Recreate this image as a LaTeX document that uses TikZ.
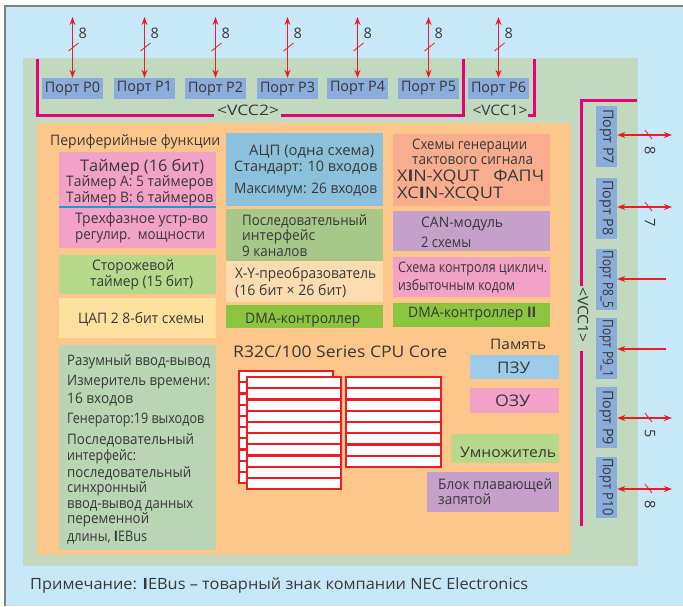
\documentclass[tikz,border=0pt]{standalone}
\usepackage{fontspec}
\setmainfont{Open Sans}
\usetikzlibrary{arrows.meta}
\newcommand\fitw[2]{\resizebox{#1pt}{\height}{#2}}
\definecolor{bgblue}{HTML}{C6E8F8}
\definecolor{pgreen}{HTML}{C1D9BE}
\definecolor{corange}{HTML}{FDC78C}
\definecolor{portblue}{HTML}{8AADDB}
\definecolor{ared}{HTML}{ED1C24}
\definecolor{vmag}{HTML}{E5007D}
\definecolor{tpink}{HTML}{F2A1C7}
\definecolor{tblue}{HTML}{1A9AD6}
\definecolor{lgreen}{HTML}{B7D98B}
\definecolor{dyellow}{HTML}{FEE19F}
\definecolor{adcblue}{HTML}{8CC1DC}
\definecolor{sgreen}{HTML}{A8C889}
\definecolor{xypeach}{HTML}{FDDCB1}
\definecolor{dmagreen}{HTML}{8BC53F}
\definecolor{salmon}{HTML}{F8AE8E}
\definecolor{lav}{HTML}{C5A0CA}
\definecolor{romblue}{HTML}{9DCCEA}
\definecolor{iogreen}{HTML}{BAD5B4}
\definecolor{txt}{HTML}{383838}
\begin{document}
\begin{tikzpicture}[x=1pt,y=-1pt,
  t/.style={inner sep=0, text=txt, font=\fontsize{14.5}{17}\selectfont},
  tw/.style={t, anchor=base west},
  tl/.style={tw, font=\fontsize{16}{18}\selectfont},
  port/.style={fill=portblue, minimum width=61pt, minimum height=21pt, inner sep=0, text=txt, font=\fontsize{14.5}{17}\selectfont},
  io/.style={draw=ared, line width=1.3pt, {Stealth[length=8pt,width=6pt]}-{Stealth[length=8pt,width=6pt]}},
  ioin/.style={draw=ared, line width=1.3pt, -{Stealth[length=8pt,width=6pt]}},
  slashln/.style={draw=ared, line width=0.8pt},
  vcc/.style={draw=vmag, line width=3pt},
  reg/.style={draw=ared, line width=2.2pt, fill=white},
  regl/.style={draw=ared, line width=2.2pt},
]
\useasboundingbox (0,0) rectangle (683,606);
\fill[white] (0,0) rectangle (683,606);
\fill[bgblue] (5,6) rectangle (683,606);
\draw[gray, line width=1.5pt] (5,606) -- (5,6) -- (683,6);
\fill[pgreen] (23,58) rectangle (638,566);
\fill[corange] (37,123) rectangle (571,555);

% top ports
\foreach \i/\cx in {0/72.5,1/144.5,2/215.5,3/287.5,4/357.5,5/428.5,6/498.5}{
  \node[port] (P\i) at (\cx,88.5) {\fitw{55}{Порт P\i}};
  \coordinate (T\i) at (\cx,17);
  \draw[io] (T\i) -- (P\i.north);
  \draw[slashln] (\cx-4,51) -- (\cx+6,43);
  \node[t, anchor=west] (L\i) at (\cx+6,33) {8};
}

% right ports
\foreach \k/\lab/\cy/\w in {a/P7/136.5/55,b/P8/208/55,c/P8\_5/279.5/58,d/P9\_1/348.5/58,e/P9/417.5/55,f/P10/487/57}{
  \node[port, rotate=-90] (R\k) at (606.5,\cy) {\fitw{\w}{Порт \lab}};
}
\coordinate (Ea) at (672,135);
\coordinate (Eb) at (672,207);
\coordinate (Ec) at (666,279);
\coordinate (Ed) at (666,349);
\coordinate (Ee) at (672,418);
\coordinate (Ef) at (672,489);
\draw[io] (Ra.north |- Ea) -- (Ea);
\draw[io] (Rb.north |- Eb) -- (Eb);
\draw[ioin] (Ec) -- (Rc.north |- Ec);
\draw[ioin] (Ed) -- (Rd.north |- Ed);
\draw[io] (Re.north |- Ee) -- (Ee);
\draw[io] (Rf.north |- Ef) -- (Ef);
\foreach \cy/\n [count=\c] in {135/8,207/7,418/5,489/8}{
  \draw[slashln] (645,\cy-5) -- (652,\cy+4);
  \node[t, rotate=-90] (RL\c) at (650,\cy+16) {\n};
}

% VCC lines
\draw[vcc] (37,59) -- (37,115) -- (214,115);
\node[t] (vcc2) at (248,110) {\fitw{62}{<VCC2>}};
\draw[vcc] (281,115) -- (463,115) -- (463,59);
\node[t] (vcc1a) at (500,110) {\fitw{55}{<VCC1>}};
\draw[vcc] (528,115) -- (534,115) -- (534,59);
\draw[vcc] (637,100) -- (581,100) -- (581,286);
\node[t, rotate=-90] (vcc1b) at (583,315) {\fitw{56}{<VCC1>}};
\draw[vcc] (581,351) -- (581,526);

% left column
\node[tw] (perif) at (50,145) {\fitw{170}{Периферийные функции}};
\fill[tpink] (59,152) rectangle (216,248);
\draw[tblue, line width=2.5pt] (59,207) -- (216,207);
\node[tl] (tm1) at (80,171) {\fitw{124}{Таймер (16 бит)}};
\node[tw] (tm2) at (66,186) {\fitw{147}{Таймер A: 5 таймеров}};
\node[tw] (tm3) at (66,202) {\fitw{147}{Таймер B: 6 таймеров}};
\node[tw] (tm4) at (75,223) {\fitw{133}{Трехфазное устр-во}};
\node[tw] (tm5) at (75,239) {\fitw{130}{регулир.\ \ мощности}};

\fill[lgreen] (59,255) rectangle (216,294);
\node[tw] (wd1) at (92,270) {\fitw{82}{Сторожевой}};
\node[tw] (wd2) at (90,286) {\fitw{103}{таймер (15 бит)}};

\fill[dyellow] (59,298) rectangle (216,338);
\node[tw] (dac) at (78,323) {\fitw{126}{ЦАП 2 8-бит схемы}};

\fill[iogreen] (59,345) rectangle (216,550);
\foreach \y/\w/\s [count=\c] in {365/143/Разумный ввод-вывод,385/143/Измеритель времени:,403/66/16 входов,423/137/Генератор:19 выходов,444/127/Последовательный,460/69/интерфейс:,477/124/последовательный,492/80/синхронный,508/126/ввод-вывод данных,523/82/переменной}{
  \node[tw] (io\c) at (67,\y) {\fitw{\w}{\s}};
}
\node[tw] (io11) at (67,541) {\fitw{80}{длины, \textbf{I}EBus}};

% middle column
\fill[adcblue] (226,133) rectangle (383,206);
\node[tw] (adc1) at (249,155) {\fitw{125}{АЦП (одна схема)}};
\node[tw] (adc2) at (234,171) {\fitw{143}{Стандарт: 10 входов}};
\node[tw] (adc3) at (234,193) {\fitw{143}{Максимум: 26 входов}};

\fill[sgreen] (226,209) rectangle (383,261);
\node[tw] (si1) at (242,225) {\fitw{125}{Последовательный}};
\node[tw] (si2) at (242,240) {\fitw{73}{интерфейс}};
\node[tw] (si3) at (242,256) {\fitw{65}{9 каналов}};

\fill[xypeach] (226,261) rectangle (383,302);
\node[tw] (xy1) at (235,278) {\fitw{141}{X-Y-преобразователь}};
\node[tw] (xy2) at (235,295) {\fitw{111}{(16 бит × 26 бит)}};

\fill[dmagreen] (226,305) rectangle (383,328);
\node[tw] (dma1) at (245,323) {\fitw{115}{DMA-контроллер}};

% right column
\fill[salmon] (393,134) rectangle (550,206);
\node[tw] (ck1) at (412,149) {\fitw{115}{Схемы генерации}};
\node[tw] (ck2) at (412,164) {\fitw{121}{тактового сигнала}};
\node[tl] (ck3) at (397,181) {\fitw{147}{X\textbf{I}N-XQUT\ \ \ ФАПЧ}};
\node[tl] (ck4) at (397,198) {\fitw{106}{XC\textbf{I}N-XCQUT}};

\fill[lav] (393,211) rectangle (550,251);
\node[tw] (can1) at (421,227) {\fitw{82}{CAN-модуль}};
\node[tw] (can2) at (421,247) {\fitw{50}{2 схемы}};

\fill[tpink] (393,257) rectangle (550,297);
\node[tw] (crc1) at (398,272) {\fitw{149}{Схема контроля циклич.}};
\node[tw] (crc2) at (398,290) {\fitw{117}{избыточным кодом}};

\fill[dmagreen] (393,303) rectangle (550,327);
\node[tw] (dma2) at (408,317) {\fitw{128}{DMA-контроллер \textbf{II}}};

% CPU core
\node[tl] (cpu) at (233,357) {\fitw{214}{R32C/100 Series CPU Core}};
\draw[reg] (239,371) rectangle (333,483);
\foreach \k in {1,...,9}{ \draw[regl] (239,371+\k*11.2) -- (333,371+\k*11.2); }
\draw[reg] (247,377) rectangle (341,489);
\foreach \k in {1,...,9}{ \draw[regl] (247,377+\k*11.2) -- (341,377+\k*11.2); }
\draw[reg] (346,377) rectangle (441,467);
\foreach \k in {1,...,7}{ \draw[regl] (346,377+\k*11.25) -- (441,377+\k*11.25); }

% memory
\node[tw] (mem) at (490,349) {\fitw{56}{Память}};
\fill[romblue] (470,355) rectangle (559,379);
\node[tl] (rom) at (497,373) {\fitw{33}{ПЗУ}};
\fill[tpink] (470,388) rectangle (559,413);
\node[tl] (ram) at (495,406) {\fitw{35}{ОЗУ}};
\fill[lgreen] (451,434) rectangle (559,463);
\node[tw] (mul) at (460,457) {\fitw{96}{Умножитель}};
\fill[lav] (427,472) rectangle (559,512);
\node[tw] (fpu1) at (438,489) {\fitw{114}{Блок плавающей}};
\node[tw] (fpu2) at (438,504) {\fitw{53}{запятой}};

% footnote
\node[tw, font=\fontsize{15.5}{18}\selectfont] (note) at (30,589) {\fitw{498}{Примечание: \textbf{I}EBus – товарный знак компании NEC Electronics}};
\end{tikzpicture}
\end{document}
